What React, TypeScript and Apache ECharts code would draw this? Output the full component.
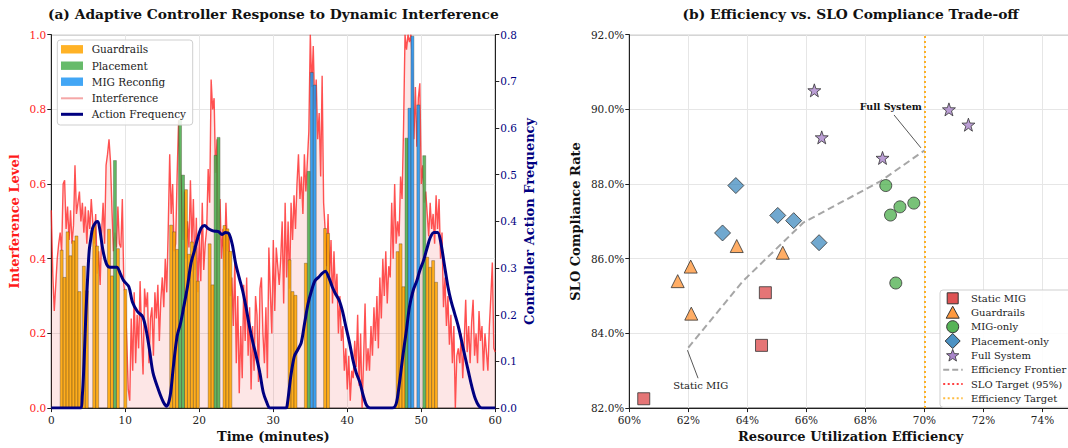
import React, { useEffect, useRef } from 'react';
import * as echarts from 'echarts';

const FONT = '"DejaVu Serif", serif';

// ---------- (a) data ----------
const STEP = 0.2; // minutes between interference samples
const interference = [
  0.53, 0.36, 0.26, 0.33, 0.40,
  0.44, 0.47, 0.42, 0.60, 0.61,
  0.48, 0.54, 0.45, 0.53, 0.44,
  0.49, 0.65, 0.52, 0.55, 0.58,
  0.50, 0.55, 0.47, 0.54, 0.44,
  0.53, 0.48, 0.56, 0.50, 0.44,
  0.52, 0.36, 0.42, 0.33, 0.47,
  0.55, 0.44, 0.65, 0.68, 0.72,
  0.66, 0.53, 0.42, 0.47, 0.43,
  0.54, 0.44, 0.43, 0.56, 0.33,
  0.30, 0.18, 0.05, 0.02, 0.24,
  0.10, 0.31, 0.12, 0.25, 0.16,
  0.34, 0.20, 0.09, 0.32, 0.27,
  0.31, 0.12, 0.24, 0.27, 0.14,
  0.31, 0.24, 0.33, 0.18, 0.29,
  0.35, 0.27, 0.40, 0.31, 0.48,
  0.68, 0.52, 0.60, 0.42, 0.44,
  0.62, 0.77, 0.64, 0.58, 0.45,
  0.58, 0.40, 0.50, 0.43, 0.61,
  0.44, 0.56, 0.37, 0.51, 0.31,
  0.46, 0.34, 0.55, 0.37, 0.44,
  0.48, 0.64, 0.55, 0.88, 0.80,
  0.83, 0.63, 0.72, 0.45, 0.56,
  0.40, 0.48, 0.37, 0.55, 0.42,
  0.47, 0.30, 0.35, 0.22, 0.40,
  0.12, 0.30, 0.04, 0.22, 0.08,
  0.33, 0.18, 0.35, 0.14, 0.27,
  0.05, 0.22, 0.10, 0.30, 0.25,
  0.07, 0.32, 0.35, 0.20, 0.12,
  0.27, 0.08, 0.43, 0.31, 0.20,
  0.45, 0.26, 0.43, 0.38, 0.33,
  0.40, 0.50, 0.28, 0.55, 0.35,
  0.50, 0.32, 0.55, 0.45, 0.57,
  0.48, 0.60, 0.68, 0.56, 0.62,
  0.52, 0.68, 0.58, 0.66, 0.74,
  1.00, 0.86, 0.97, 0.80, 0.88,
  0.72, 0.79, 0.62, 0.89, 0.55,
  0.48, 0.38, 0.52, 0.35, 0.45,
  0.28, 0.42, 0.30, 0.36, 0.20,
  0.30, 0.18, 0.22, 0.10, 0.16,
  0.05, 0.14, 0.02, 0.10, 0.08,
  0.18, 0.11, 0.25, 0.06, 0.20,
  0.00, 0.13, 0.28, 0.10, 0.16,
  0.10, 0.22, 0.14, 0.27, 0.18,
  0.30, 0.16, 0.35, 0.24, 0.40,
  0.30, 0.42, 0.28, 0.38, 0.35,
  0.55, 0.40, 0.60, 0.44, 0.50,
  0.46, 0.62, 0.56, 0.75, 1.00,
  0.96, 1.00, 0.98, 1.00, 0.92,
  0.72, 0.86, 0.70, 0.83, 0.87,
  0.60, 0.65, 0.55, 0.58, 0.52,
  0.46, 0.55, 0.48, 0.52, 0.44,
  0.57, 0.48, 0.56, 0.40, 0.47,
  0.27, 0.35, 0.22, 0.30, 0.17,
  0.25, 0.12, 0.22, 0.00, 0.14,
  0.16, 0.12, 0.20, 0.08, 0.18,
  0.29, 0.15, 0.22, 0.12, 0.23,
  0.29, 0.14, 0.20, 0.12, 0.26,
  0.18, 0.22, 0.10, 0.20, 0.15,
  0.10, 0.22, 0.30, 0.39, 0.16,
  0.15,
];

const BAR_WIDTH = 0.4; // minutes
const actionTimes = [
  1.4, 1.8, 2.2, 2.6, 3.0, 3.4, 3.8, 4.4, 4.8, 5.8, 6.2, 7.8, 8.2, 8.6, 9.0, 10.0,
  16.2, 16.6, 17.0, 17.4, 17.8, 18.2, 18.6, 19.0, 19.4, 19.8, 21.4, 21.8, 22.2, 22.6, 23.4, 23.8, 24.2,
  32.2, 32.6, 33.0, 34.4, 34.8, 35.2, 35.6, 37.0, 37.4,
  46.8, 47.2, 47.6, 48.0, 48.4, 48.8, 49.6, 50.4, 50.8, 51.2, 51.6, 52.0,
];
const actionLevels = [
  0.423, 0.350, 0.472, 0.408, 0.448, 0.461, 0.312, 0.380, 0.314, 0.490, 0.434, 0.479, 0.354, 0.663, 0.427, 0.318,
  0.490, 0.472, 0.425, 0.771, 0.624, 0.585, 0.412, 0.445, 0.434, 0.340, 0.440, 0.330, 0.677, 0.725, 0.489, 0.480, 0.420,
  0.397, 0.312, 0.302, 0.388, 0.634, 0.899, 0.865, 0.481, 0.468,
  0.419, 0.440, 0.325, 0.723, 0.803, 0.996, 0.812, 0.676, 0.404, 0.377, 0.395, 0.337,
];
const actionKinds = [
  'G', 'G', 'G', 'G', 'G', 'G', 'G', 'G', 'G', 'G', 'G', 'G', 'G', 'P', 'G', 'G',
  'G', 'G', 'G', 'P', 'P', 'G', 'G', 'G', 'G', 'G', 'G', 'G', 'P', 'P', 'G', 'G', 'G',
  'G', 'G', 'G', 'G', 'P', 'M', 'M', 'G', 'G',
  'G', 'G', 'G', 'P', 'M', 'M', 'M', 'P', 'G', 'G', 'G', 'G',
];

const freqTimes = [
  0, 3.9, 4.19, 4.42, 4.66, 4.89, 5.12, 5.36, 5.59, 6.05, 6.29, 6.52, 6.99, 7.45, 7.92, 8.85, 9.32, 9.78,
  10.48, 10.95, 11.64, 12.34, 12.81, 13.27, 13.74, 14.44, 15.14, 15.6, 16.07, 16.5, 17.0, 17.47, 17.9,
  18.4, 18.86, 19.33, 19.8, 20.26, 20.73, 21.19, 21.66, 22.12, 22.59, 23.06, 23.52, 23.99, 24.45, 24.92,
  25.38, 25.85, 26.3, 26.78, 27.25, 27.7, 28.18, 28.64, 29.1, 29.58, 31.7, 31.9, 32.37, 32.84, 33.3,
  33.77, 34.23, 34.7, 35.17, 35.63, 36.1, 36.56, 37.03, 37.5, 37.96, 38.4, 38.9, 39.36, 39.8, 40.3,
  40.75, 41.2, 41.7, 42.15, 42.6, 43.1, 46.1, 46.6, 47.0, 47.5, 48.0, 48.4, 48.9, 49.4, 49.8, 50.3,
  50.8, 51.2, 51.7, 52.2, 52.6, 53.1, 53.6, 54.0, 54.5, 55.0, 55.4, 55.9, 56.4, 56.8, 57.3, 57.8, 58.2, 60,
];
const freqValues = [
  0, 0, 0.027, 0.097, 0.196, 0.273, 0.337, 0.365, 0.386, 0.399, 0.4, 0.386, 0.337, 0.309, 0.302, 0.302, 0.288, 0.273,
  0.26, 0.228, 0.207, 0.196, 0.168, 0.125, 0.076, 0.041, 0.013, 0.004, 0.027, 0.09, 0.154, 0.182, 0.217,
  0.26, 0.309, 0.337, 0.365, 0.386, 0.391, 0.385, 0.381, 0.379, 0.378, 0.372, 0.376, 0.374, 0.351, 0.309,
  0.28, 0.252, 0.217, 0.175, 0.14, 0.111, 0.076, 0.034, 0.013, 0, 0, 0.009, 0.069, 0.111, 0.125,
  0.14, 0.182, 0.224, 0.252, 0.273, 0.28, 0.288, 0.293, 0.28, 0.26, 0.245, 0.231, 0.207, 0.175, 0.14,
  0.104, 0.076, 0.055, 0.027, 0.006, 0, 0, 0.009, 0.048, 0.111, 0.168, 0.217, 0.252, 0.273, 0.295, 0.316,
  0.344, 0.365, 0.376, 0.376, 0.358, 0.309, 0.26, 0.231, 0.203, 0.175, 0.147, 0.111, 0.076, 0.048, 0.02, 0.004, 0, 0,
];

// ---------- (b) data ----------
const staticMigEff = [60.49, 64.61, 64.48];
const staticMigSlo = [82.25, 85.09, 83.68];
const guardEff = [61.64, 62.08, 62.1, 63.64, 65.2];
const guardSlo = [85.4, 85.79, 84.53, 86.34, 86.16];
const migOnlyEff = [68.69, 68.85, 69.17, 69.64, 69.03];
const migOnlySlo = [87.96, 87.17, 87.39, 87.49, 85.35];
const placeEff = [63.61, 63.16, 65.03, 65.57, 66.43];
const placeSlo = [87.96, 86.69, 87.16, 87.02, 86.43];
const fullEff = [66.27, 66.52, 68.58, 70.83, 71.49];
const fullSlo = [90.51, 89.25, 88.7, 90.0, 89.59];
const frontierEff = [62.0, 63.85, 65.9, 68.5, 70.0];
const frontierSlo = [83.62, 85.4, 86.97, 88.07, 88.9];
const EFF_TARGET = 70;

const STAR = 'path://M0,-10L2.35,-3.24L9.51,-3.09L3.8,1.24L5.88,8.09L0,4L-5.88,8.09L-3.8,1.24L-9.51,-3.09L-2.35,-3.24Z';

const pairs = (xs: number[], ys: number[]) => xs.map((x, i) => [x, ys[i]]);

function starPoints(cx: number, cy: number, r: number) {
  const pts: number[][] = [];
  for (let k = 0; k < 10; k++) {
    const rr = k % 2 === 0 ? r : r * 0.42;
    const a = -Math.PI / 2 + (k * Math.PI) / 5;
    pts.push([cx + rr * Math.cos(a), cy + rr * Math.sin(a)]);
  }
  return pts;
}

function buildOption() {
  const barSeries = (kind: string, name: string, fill: string) => ({
    type: 'custom',
    name,
    xAxisIndex: 0,
    yAxisIndex: 0,
    z: 3,
    encode: { x: 0, y: 1 },
    data: actionTimes
      .map((t, i) => [t, actionLevels[i], actionKinds[i]])
      .filter((d) => d[2] === kind)
      .map((d) => [d[0], d[1]]),
    renderItem: (params: any, api: any) => {
      const t = api.value(0);
      const v = api.value(1);
      const p0 = api.coord([t - BAR_WIDTH / 2, v]);
      const p1 = api.coord([t + BAR_WIDTH / 2, 0]);
      return {
        type: 'rect',
        shape: { x: p0[0], y: p0[1], width: p1[0] - p0[0], height: p1[1] - p0[1] },
        style: { fill, stroke: 'rgba(60,50,30,0.55)', lineWidth: 0.6 },
      };
    },
  });

  const tickLabel = { fontFamily: FONT, fontSize: 10.5, color: '#222' };
  const axisLineBlack = { show: true, lineStyle: { color: '#222', width: 1 } };
  const tickBlack = { show: true, length: 4, lineStyle: { color: '#222', width: 1 } };
  const gridLine = { show: true, lineStyle: { color: '#e6e6e6', width: 1 } };
  const nameStyle = (color: string) => ({ fontFamily: FONT, fontSize: 13, fontWeight: 'bold', color });

  const L = { left: 51.3, top: 34.7, width: 444, height: 377.3 };
  const R = { left: 629.3, top: 34.7, width: 442.7, height: 378.3 };

  const legendA = { x: 57.3, y: 40, rows: [49.3, 65.7, 81.7, 98.3, 114.3], iconX: 61, textX: 91.7 };
  const legendB = { x: 940, y: 290, rows: [298.3, 312.7, 326.7, 341, 355.3, 369.7, 384, 398.3], cx: 952.7, textX: 971 };

  const legText = (x: number, y: number, text: string, size: number) => ({
    type: 'text', x, y, z: 101,
    style: { text, fontFamily: FONT, fontSize: size, fill: '#222', textVerticalAlign: 'middle', textAlign: 'left' },
  });

  const graphic: any[] = [
    { type: 'text', x: 273.3, y: 14, style: { text: '(a) Adaptive Controller Response to Dynamic Interference', fontFamily: FONT, fontSize: 13.8, fontWeight: 'bold', fill: '#111', textAlign: 'center', textVerticalAlign: 'middle' } },
    { type: 'text', x: 850.6, y: 14, style: { text: '(b) Efficiency vs. SLO Compliance Trade-off', fontFamily: FONT, fontSize: 13.8, fontWeight: 'bold', fill: '#111', textAlign: 'center', textVerticalAlign: 'middle' } },
    // legend (a)
    { type: 'rect', z: 100, shape: { x: legendA.x, y: legendA.y, width: 135.4, height: 85, r: 3 }, style: { fill: 'rgba(255,255,255,0.85)', stroke: '#cfcfcf', lineWidth: 1 } },
    { type: 'rect', z: 101, shape: { x: legendA.iconX, y: legendA.rows[0] - 4.2, width: 22, height: 8.4 }, style: { fill: 'rgba(255,165,0,0.85)' } },
    { type: 'rect', z: 101, shape: { x: legendA.iconX, y: legendA.rows[1] - 4.2, width: 22, height: 8.4 }, style: { fill: 'rgba(76,175,80,0.85)' } },
    { type: 'rect', z: 101, shape: { x: legendA.iconX, y: legendA.rows[2] - 4.2, width: 22, height: 8.4 }, style: { fill: 'rgba(33,150,243,0.85)' } },
    { type: 'line', z: 101, shape: { x1: legendA.iconX, y1: legendA.rows[3], x2: legendA.iconX + 22, y2: legendA.rows[3] }, style: { stroke: 'rgba(240,120,120,0.65)', lineWidth: 2 } },
    { type: 'line', z: 101, shape: { x1: legendA.iconX, y1: legendA.rows[4], x2: legendA.iconX + 22, y2: legendA.rows[4] }, style: { stroke: '#000080', lineWidth: 3 } },
    legText(legendA.textX, legendA.rows[0], 'Guardrails', 10.5),
    legText(legendA.textX, legendA.rows[1], 'Placement', 10.5),
    legText(legendA.textX, legendA.rows[2], 'MIG Reconfig', 10.5),
    legText(legendA.textX, legendA.rows[3], 'Interference', 10.5),
    legText(legendA.textX, legendA.rows[4], 'Action Frequency', 10.5),
    // legend (b)
    { type: 'rect', z: 100, shape: { x: legendB.x, y: legendB.y, width: 140, height: 117.3, r: 3 }, style: { fill: 'rgba(255,255,255,0.85)', stroke: '#cfcfcf', lineWidth: 1 } },
    { type: 'rect', z: 101, shape: { x: legendB.cx - 5.5, y: legendB.rows[0] - 5.5, width: 11, height: 11 }, style: { fill: 'rgba(214,39,40,0.8)', stroke: '#333', lineWidth: 1 } },
    { type: 'polygon', z: 101, shape: { points: [[legendB.cx, legendB.rows[1] - 6.5], [legendB.cx + 6.5, legendB.rows[1] + 5.5], [legendB.cx - 6.5, legendB.rows[1] + 5.5]] }, style: { fill: 'rgba(255,127,14,0.8)', stroke: '#333', lineWidth: 1 } },
    { type: 'circle', z: 101, shape: { cx: legendB.cx, cy: legendB.rows[2], r: 6 }, style: { fill: 'rgba(44,160,44,0.8)', stroke: '#333', lineWidth: 1 } },
    { type: 'polygon', z: 101, shape: { points: [[legendB.cx, legendB.rows[3] - 7.5], [legendB.cx + 7.5, legendB.rows[3]], [legendB.cx, legendB.rows[3] + 7.5], [legendB.cx - 7.5, legendB.rows[3]]] }, style: { fill: 'rgba(31,119,180,0.8)', stroke: '#333', lineWidth: 1 } },
    { type: 'polygon', z: 101, shape: { points: starPoints(legendB.cx, legendB.rows[4] + 0.5, 6.5) }, style: { fill: 'rgba(148,103,189,0.8)', stroke: '#333', lineWidth: 0.8 } },
    { type: 'line', z: 101, shape: { x1: legendB.cx - 9.5, y1: legendB.rows[5], x2: legendB.cx + 10, y2: legendB.rows[5] }, style: { stroke: 'rgba(128,128,128,0.7)', lineWidth: 2, lineDash: [6, 3] } },
    { type: 'line', z: 101, shape: { x1: legendB.cx - 9.5, y1: legendB.rows[6], x2: legendB.cx + 10, y2: legendB.rows[6] }, style: { stroke: 'rgba(255,0,0,0.75)', lineWidth: 2, lineDash: [2, 2.5] } },
    { type: 'line', z: 101, shape: { x1: legendB.cx - 9.5, y1: legendB.rows[7], x2: legendB.cx + 10, y2: legendB.rows[7] }, style: { stroke: 'rgba(255,165,0,0.75)', lineWidth: 2, lineDash: [2, 2.5] } },
    legText(legendB.textX, legendB.rows[0], 'Static MIG', 10),
    legText(legendB.textX, legendB.rows[1], 'Guardrails', 10),
    legText(legendB.textX, legendB.rows[2], 'MIG-only', 10),
    legText(legendB.textX, legendB.rows[3], 'Placement-only', 10),
    legText(legendB.textX, legendB.rows[4], 'Full System', 10),
    legText(legendB.textX, legendB.rows[5], 'Efficiency Frontier', 10),
    legText(legendB.textX, legendB.rows[6], 'SLO Target (95%)', 10),
    legText(legendB.textX, legendB.rows[7], 'Efficiency Target', 10),
  ];

  const scatter = (name: string, xs: number[], ys: number[], symbol: string, size: number, color: string) => ({
    type: 'scatter', name, xAxisIndex: 1, yAxisIndex: 2, z: 5,
    symbol, symbolSize: size,
    itemStyle: { color, borderColor: '#333', borderWidth: 1 },
    data: pairs(xs, ys),
  });

  return {
    animation: false,
    backgroundColor: '#fff',
    graphic,
    grid: [
      { ...L, show: true, borderColor: '#222', borderWidth: 1, backgroundColor: 'transparent' },
      { ...R, show: true, borderColor: '#222', borderWidth: 1, backgroundColor: 'transparent' },
    ],
    xAxis: [
      {
        type: 'value', gridIndex: 0, min: 0, max: 60, interval: 10,
        axisLine: axisLineBlack, axisTick: tickBlack, splitLine: gridLine,
        axisLabel: { ...tickLabel, margin: 6 },
        name: 'Time (minutes)', nameLocation: 'middle', nameGap: 21, nameTextStyle: nameStyle('#111'),
      },
      {
        type: 'value', gridIndex: 1, min: 60, max: 75, interval: 2,
        axisLine: axisLineBlack, axisTick: tickBlack, splitLine: gridLine,
        axisLabel: { ...tickLabel, margin: 6, formatter: (v: number) => (v > 74 ? '' : `${v}%`) },
        name: 'Resource Utilization Efficiency', nameLocation: 'middle', nameGap: 21, nameTextStyle: nameStyle('#111'),
      },
    ],
    yAxis: [
      {
        type: 'value', gridIndex: 0, min: 0, max: 1, interval: 0.2,
        axisLine: axisLineBlack, axisTick: tickBlack, splitLine: gridLine,
        axisLabel: { ...tickLabel, color: '#ff1a1a', margin: 5, formatter: (v: number) => v.toFixed(1) },
        name: 'Interference Level', nameLocation: 'middle', nameRotate: 90, nameGap: 30, nameTextStyle: nameStyle('#ff1a1a'),
      },
      {
        type: 'value', gridIndex: 0, position: 'right', min: 0, max: 0.8, interval: 0.1,
        axisLine: axisLineBlack, axisTick: tickBlack, splitLine: { show: false },
        axisLabel: { ...tickLabel, color: '#000080', margin: 5, formatter: (v: number) => v.toFixed(1) },
        name: 'Controller Action Frequency', nameLocation: 'middle', nameRotate: 90, nameGap: 28, nameTextStyle: nameStyle('#000080'),
      },
      {
        type: 'value', gridIndex: 1, min: 82, max: 92, interval: 2,
        axisLine: axisLineBlack, axisTick: tickBlack, splitLine: gridLine,
        axisLabel: { ...tickLabel, margin: 5, formatter: (v: number) => `${v.toFixed(1)}%` },
        name: 'SLO Compliance Rate', nameLocation: 'middle', nameRotate: 90, nameGap: 47, nameTextStyle: nameStyle('#111'),
      },
    ],
    series: [
      {
        type: 'line', name: 'Interference', xAxisIndex: 0, yAxisIndex: 0, z: 2,
        showSymbol: false, symbol: 'none',
        data: interference.map((v, i) => [i * STEP, v]),
        lineStyle: { color: 'rgba(255,35,35,0.78)', width: 1.4 },
        areaStyle: { color: 'rgba(240,40,40,0.17)', origin: 'start' },
      },
      barSeries('G', 'Guardrails', 'rgba(255,165,0,0.88)'),
      barSeries('P', 'Placement', 'rgba(76,175,80,0.88)'),
      barSeries('M', 'MIG Reconfig', 'rgba(33,150,243,0.88)'),
      {
        type: 'line', name: 'Action Frequency', xAxisIndex: 0, yAxisIndex: 1, z: 6,
        showSymbol: false, symbol: 'none', smooth: 0.3,
        data: pairs(freqTimes, freqValues),
        lineStyle: { color: '#000080', width: 3 },
      },
      // (b)
      {
        type: 'line', name: 'Efficiency Frontier', xAxisIndex: 1, yAxisIndex: 2, z: 4,
        showSymbol: false, symbol: 'none',
        data: pairs(frontierEff, frontierSlo),
        lineStyle: { color: 'rgba(128,128,128,0.7)', width: 2, type: [7, 4] },
        markLine: {
          silent: true, symbol: ['none', 'none'], label: { show: false },
          lineStyle: { color: 'rgba(255,165,0,0.85)', width: 2, type: [2, 3] },
          data: [{ xAxis: EFF_TARGET }],
        },
      },
      {
        type: 'scatter', name: 'annotations', xAxisIndex: 1, yAxisIndex: 2, z: 7,
        data: [],
        markLine: {
          silent: true, symbolSize: [0, 6], label: { show: false },
          lineStyle: { color: '#444', width: 0.9, type: 'solid' },
          data: [
            [{ coord: [68.97, 89.85], symbol: 'none' }, { coord: [69.88, 88.97], symbol: 'arrow' }],
            [{ coord: [62.33, 82.8], symbol: 'none' }, { coord: [61.97, 83.55], symbol: 'arrow' }],
          ],
        },
        markPoint: {
          silent: true, symbol: 'circle', symbolSize: 1, itemStyle: { color: 'rgba(0,0,0,0)' },
          data: [
            { coord: [68.86, 90.09], label: { show: true, position: 'inside', formatter: 'Full System', fontFamily: FONT, fontSize: 9.5, fontWeight: 'bold', color: '#111' } },
            { coord: [62.42, 82.61], label: { show: true, position: 'inside', formatter: 'Static MIG', fontFamily: FONT, fontSize: 10, color: '#222' } },
          ],
        },
      },
      scatter('Static MIG', staticMigEff, staticMigSlo, 'rect', 12, 'rgba(214,39,40,0.8)'),
      scatter('Guardrails (b)', guardEff, guardSlo, 'triangle', 13, 'rgba(255,127,14,0.8)'),
      scatter('MIG-only', migOnlyEff, migOnlySlo, 'circle', 12, 'rgba(44,160,44,0.8)'),
      scatter('Placement-only', placeEff, placeSlo, 'diamond', 16, 'rgba(31,119,180,0.8)'),
      scatter('Full System', fullEff, fullSlo, STAR, 13, 'rgba(148,103,189,0.8)'),
    ],
  };
}

export default function App() {
  const ref = useRef<HTMLDivElement>(null);
  useEffect(() => {
    document.body.style.margin = '0';
    document.body.style.overflow = 'hidden';
    if (!ref.current) return;
    const chart = echarts.init(ref.current, null, { renderer: 'svg' });
    chart.setOption(buildOption() as any);
    return () => chart.dispose();
  }, []);
  return (
    <div style={{ position: 'fixed', left: 0, top: 0, width: 1068, height: 448, overflow: 'hidden', background: '#fff' }}>
      <div ref={ref} style={{ width: 1090, height: 448 }} />
    </div>
  );
}
